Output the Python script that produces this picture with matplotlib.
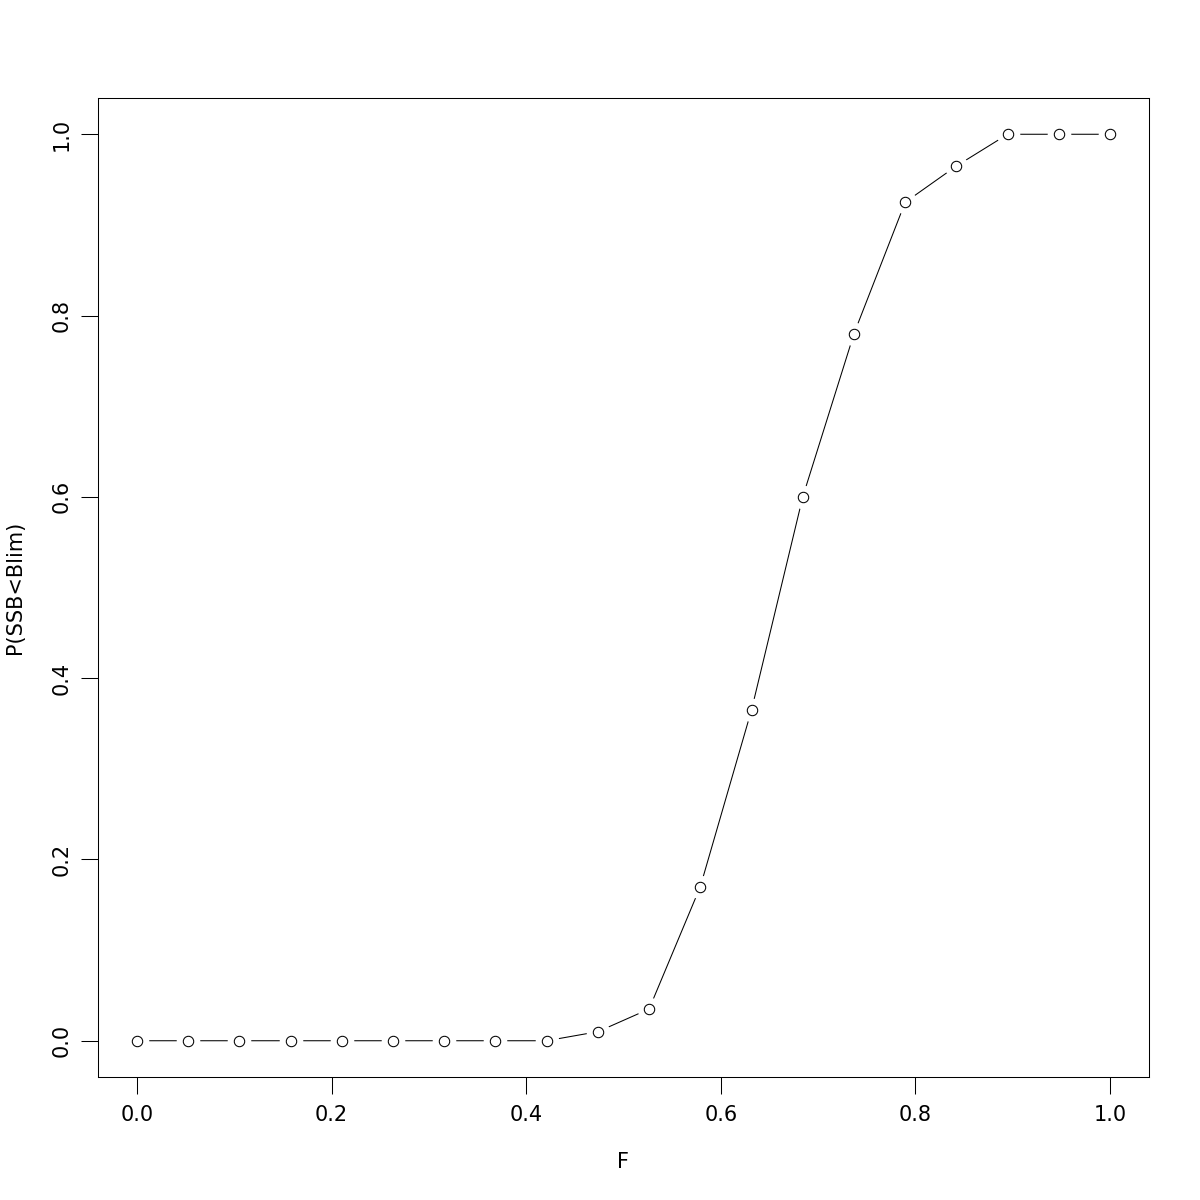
import numpy as np
import matplotlib
matplotlib.use("Agg")
import matplotlib.pyplot as plt

# F grid and probability of SSB below Blim
f_vals = np.linspace(0, 1, 20)
p_vals = [0, 0, 0, 0, 0, 0, 0, 0, 0, 0.01, 0.035, 0.17, 0.365, 0.60,
          0.78, 0.925, 0.965, 1.0, 1.0, 1.0]
xticks = [0.0, 0.2, 0.4, 0.6, 0.8, 1.0]
yticks = [0.0, 0.2, 0.4, 0.6, 0.8, 1.0]

fig = plt.figure(figsize=(12, 12), dpi=100)
ax = fig.add_axes([98/1200, 123/1200, 1051/1200, 979/1200])

# R type="b": line with gaps around the points
ax.plot(f_vals, p_vals, color="black", lw=0.75, zorder=1)
ax.plot(f_vals, p_vals, ls="none", marker="o", ms=17, mfc="white", mec="none", zorder=2)
ax.plot(f_vals, p_vals, ls="none", marker="o", ms=7.5, mfc="white", mec="black",
        mew=0.75, zorder=3)

ax.set_xlim(-0.04, 1.04)
ax.set_ylim(-0.04, 1.04)
ax.set_xticks(xticks)
ax.set_yticks(yticks)
ax.set_xticklabels([f"{v:.1f}" for v in xticks])
ax.set_yticklabels([f"{v:.1f}" for v in yticks], rotation=90, va="center")
ax.tick_params(length=12, width=0.75, labelsize=15)
ax.tick_params(axis="x", pad=8)
ax.tick_params(axis="y", pad=7)
for s in ax.spines.values():
    s.set_linewidth(0.75)

# axis titles placed like R's mtext lines
fig.text(623/1200, 1 - 1162/1200, "F", fontsize=15, ha="center", va="center")
fig.text(15/1200, 1 - 587/1200, "P(SSB<Blim)", fontsize=15, ha="center",
         va="center", rotation=90)

fig.savefig("out.png", dpi=100)
